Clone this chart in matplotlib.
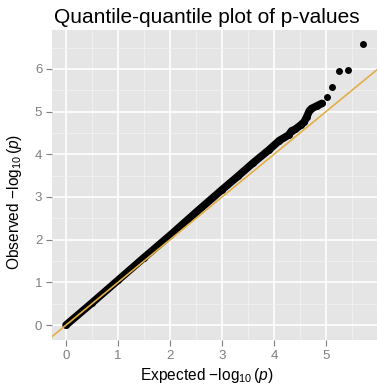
import numpy as np
import matplotlib.pyplot as plt

# ===== QQ data: expected vs observed -log10(p), read along the point cloud
expected = [0.0, 0.5, 1.0, 1.5, 2.0, 2.5, 3.0, 3.3, 3.6, 3.9, 4.1, 4.28, 4.34,
            4.40, 4.51, 4.58, 4.63, 4.68, 4.72, 4.82, 4.92, 5.01, 5.12, 5.25,
            5.42, 5.72]
observed = [0.0, 0.52, 1.05, 1.58, 2.10, 2.64, 3.17, 3.48, 3.80, 4.10, 4.32,
            4.45, 4.55, 4.58, 4.68, 4.76, 4.88, 5.02, 5.07, 5.13, 5.19, 5.35,
            5.58, 5.95, 5.97, 6.58]
# points up to here overlap into a solid band
n_dense = 21

x_ticks = [0, 1, 2, 3, 4, 5]
y_ticks = [0, 1, 2, 3, 4, 5, 6]

plt.rcParams['font.family'] = ['Liberation Sans', 'DejaVu Sans']
plt.rcParams['mathtext.fontset'] = 'custom'
plt.rcParams['mathtext.rm'] = 'Liberation Sans'
plt.rcParams['mathtext.it'] = 'Liberation Sans:italic'

fig = plt.figure(figsize=(3.77, 3.91), dpi=100)
ax = fig.add_axes([52 / 377, 51 / 391, 325 / 377, 310 / 391])
ax.set_facecolor('#E5E5E5')

ax.set_xlim(-0.27, 5.98)
ax.set_ylim(-0.35, 6.91)

# ===== grid, ggplot style
ax.set_xticks(x_ticks)
ax.set_yticks(y_ticks)
ax.set_xticks([t + 0.5 for t in x_ticks], minor=True)
ax.set_yticks([t + 0.5 for t in y_ticks], minor=True)
ax.grid(which='major', color='white', lw=1.2)
ax.grid(which='minor', color='#F2F2F2', lw=0.6)
ax.set_axisbelow(True)
for s in ax.spines.values():
    s.set_visible(False)
ax.tick_params(which='major', length=4, width=0.8, color='#7F7F7F',
               labelcolor='#7F7F7F', labelsize=9.5, pad=3)
ax.tick_params(which='minor', length=0)

# ===== points
ax.plot(expected[:n_dense], observed[:n_dense], color='black', lw=5.5,
        solid_capstyle='round', solid_joinstyle='round', zorder=3)
ax.plot(expected, observed, 'o', color='black', ms=5, mec='none', zorder=3)

# y = x reference line
ax.axline((0, 0), slope=1, color='#E3AE45', lw=1.2, zorder=4)

ax.set_xlabel(r'Expected $-\log_{10}(p)$', fontsize=11.2)
ax.set_ylabel(r'Observed $-\log_{10}(p)$', fontsize=11.2)
ax.xaxis.set_label_coords(0.475, -0.085)
ax.yaxis.set_label_coords(-0.085, 0.447)
ax.set_title('Quantile-quantile plot of p-values', fontsize=15, x=0.475,
             pad=5)

fig.savefig('out.png', dpi=100)
